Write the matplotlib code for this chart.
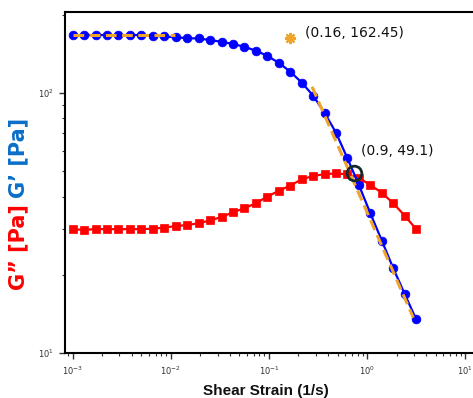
import numpy as np
import matplotlib.pyplot as plt

# shear strain (1/s), 31 points
strain = np.logspace(-3, 0.5, 31)
g_storage = [167, 167, 167, 167, 167, 167, 167, 166, 165, 163.7,
             162.5, 162, 159.8, 157.4, 154.3, 150.6, 145.4, 139, 130.6, 120.9,
             109.7, 97.8, 83.9, 70.4, 56.1, 44.3, 34.5, 27.1, 21.2, 16.9, 13.5]
g_loss = [29.95, 29.8, 30.0, 30.0, 30.0, 30.0, 30.0, 30.1, 30.4, 30.8,
          31.1, 31.6, 32.4, 33.4, 34.8, 36.1, 37.7, 40.0, 42.1, 44.1,
          46.6, 48.0, 48.8, 49.1, 48.7, 47.2, 44.3, 41.4, 37.7, 33.8, 30.0]

# fitted guides
plateau_x = [1e-3, 0.011]
plateau_y = [167, 167]
slope_x = [0.275, 2.96]
slope_y = [105.7, 13.7]

# marked points
yield_pt = (0.165, 162.45)
yield_label = "(0.16, 162.45)"
cross_pt = (0.73, 49.1)
cross_label = "(0.9, 49.1)"

orange = "#EFA52A"

fig = plt.figure(figsize=(4.73, 3.98), dpi=100)
ax = fig.add_axes([65 / 473, 1 - 353.3 / 398, 412 / 473, 341.3 / 398])

ax.plot(strain, g_loss, color="#FF0000", marker="s", markersize=6, markeredgewidth=0.5,
        linewidth=1.6, zorder=2)
ax.plot(strain, g_storage, color="#0000FF", marker="o", markersize=6.3, markeredgewidth=0.5,
        linewidth=1.6, zorder=3)
ax.plot(plateau_x, plateau_y, color=orange, linestyle=(0, (3.5, 1.8)), linewidth=2.2, zorder=4)
ax.plot(slope_x, slope_y, color=orange, linestyle=(0, (3.5, 1.8)), linewidth=2.2, zorder=4)

ax.plot(*yield_pt, marker=(8, 2, 0), markersize=8, markeredgewidth=1.6, color=orange, zorder=5)
ax.annotate(yield_label, yield_pt, xytext=(10.5, 3.5), textcoords="offset points",
            fontsize=10, va="center", ha="left", color="#111111")
ax.plot(*cross_pt, marker="o", markersize=10.5, markerfacecolor="none",
        markeredgecolor="#15292B", markeredgewidth=2, zorder=6)
ax.annotate(cross_label, cross_pt, xytext=(5.5, 16.5), textcoords="offset points",
            fontsize=10, va="center", ha="left", color="#111111")

ax.set_xscale("log")
ax.set_yscale("log")
ax.set_xlim(10 ** -3.078, 10 ** 1.12)
ax.set_ylim(10, 204.8)

for s in ax.spines.values():
    s.set_linewidth(1.5)
ax.tick_params(which="major", length=4, width=1, labelsize=6, colors="#333333", pad=4)
ax.tick_params(which="minor", length=2, width=0.8, colors="#333333")
ax.tick_params(axis="y", which="minor", labelleft=False)

ax.set_xlabel("Shear Strain (1/s)", fontsize=11, fontweight="bold",
              family="Liberation Sans", color="#111111")
ax.xaxis.set_label_coords(0.488, -0.09)

fig.text(0.038, 1 - 204 / 398, "G” [Pa]", rotation=90, color="#FF0000", fontsize=15,
         fontweight="bold", family="DejaVu Sans", ha="center", va="top")
fig.text(0.038, 1 - 198 / 398, "G’ [Pa]", rotation=90, color="#0A6EC8", fontsize=15,
         fontweight="bold", family="DejaVu Sans", ha="center", va="bottom")

fig.savefig("out.png", dpi=100)
